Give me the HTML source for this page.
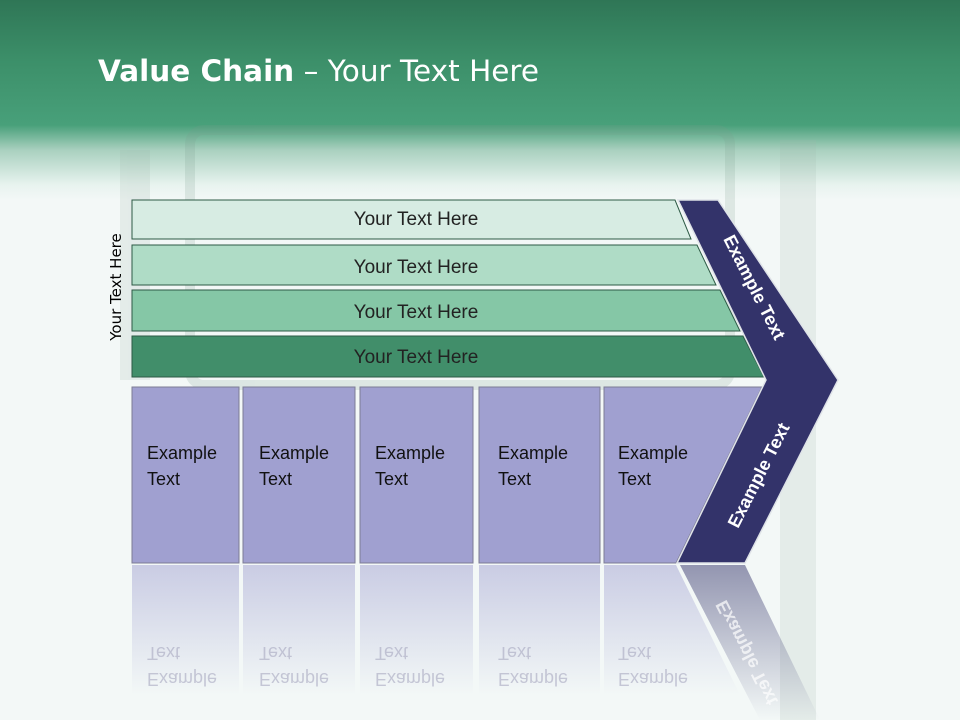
<!DOCTYPE html>
<html><head><meta charset="utf-8"><style>
body{margin:0;width:960px;height:720px;overflow:hidden;background:#f3f8f7;font-family:"Liberation Sans",sans-serif;position:relative}
.abs{position:absolute}
</style></head><body>
<div class="abs" style="left:0;top:0;width:960px;height:200px;background:linear-gradient(#2f7656 0px,#3c8f69 60px,#48a07a 125px,#a9d0bf 150px,#e8f3ef 185px,#f3f8f7 200px)"></div>
<svg class="abs" style="left:0;top:0" width="960" height="720">
 <g opacity="0.18" fill="none" stroke="#7a9a8c">
  <rect x="190" y="130" width="540" height="255" rx="14" stroke-width="10"/>
  <rect x="780" y="140" width="36" height="580" fill="#9fb5ab" stroke="none"/>
  <rect x="120" y="150" width="30" height="230" fill="#9fb5ab" stroke="none"/>
 </g>
 <polygon points="132,200 675,200 691,239 132,239" fill="#d7ece3" stroke="#2d5a45" stroke-width="1"/>
 <polygon points="132,245 697,245 716,285 132,285" fill="#afdcc6" stroke="#2d5a45" stroke-width="1"/>
 <polygon points="132,290 720,290 740,331 132,331" fill="#85c7a6" stroke="#2d5a45" stroke-width="1"/>
 <polygon points="132,336 743,336 764,377 132,377" fill="#418e6a" stroke="#2d5a45" stroke-width="1"/>
 <g font-size="19" fill="#222" text-anchor="middle">
  <text x="416" y="225">Your Text Here</text>
  <text x="416" y="273">Your Text Here</text>
  <text x="416" y="318">Your Text Here</text>
  <text x="416" y="363">Your Text Here</text>
 </g>
 <text transform="translate(121,287) rotate(-90)" text-anchor="middle" font-size="15" font-family="DejaVu Sans" fill="#000">Your Text Here</text>
 <g fill="#a0a0d0" stroke="#7d7d95" stroke-width="1">
  <rect x="132" y="387" width="107" height="176"/>
  <rect x="243" y="387" width="112" height="176"/>
  <rect x="360" y="387" width="113" height="176"/>
  <rect x="479" y="387" width="121" height="176"/>
  <polygon points="604,387 762,387 676,563 604,563"/>
 </g>
 <defs><linearGradient id="rf" x1="0" y1="0" x2="0" y2="1"><stop offset="0" stop-color="#a0a0d0" stop-opacity="0.5"/><stop offset="1" stop-color="#a0a0d0" stop-opacity="0"/></linearGradient>
 <linearGradient id="rc" x1="0" y1="0" x2="0" y2="1"><stop offset="0" stop-color="#33336a" stop-opacity="0.5"/><stop offset="1" stop-color="#33336a" stop-opacity="0"/></linearGradient></defs>
 <g fill="url(#rf)">
  <rect x="132" y="565" width="107" height="130"/>
  <rect x="243" y="565" width="112" height="130"/>
  <rect x="360" y="565" width="113" height="130"/>
  <rect x="479" y="565" width="121" height="130"/>
  <polygon points="604,565 676,565 740,695 604,695"/>
 </g>
 <polygon points="680,565 745,565 820,720 760,720" fill="url(#rc)"/>
 <g font-size="18" fill="#a8a8c0" opacity="0.6">
  <g transform="translate(0,1132) scale(1,-1)">
   <text x="147" y="459">Example</text><text x="147" y="485">Text</text>
   <text x="259" y="459">Example</text><text x="259" y="485">Text</text>
   <text x="375" y="459">Example</text><text x="375" y="485">Text</text>
   <text x="498" y="459">Example</text><text x="498" y="485">Text</text>
   <text x="618" y="459">Example</text><text x="618" y="485">Text</text>
  </g>
 </g>
 <text transform="translate(752,650) rotate(63) scale(1,-1)" font-size="18" font-weight="bold" fill="#fff" opacity="0.7" text-anchor="middle">Example Text</text>
 <g font-size="18" fill="#111">
  <text x="147" y="459">Example</text><text x="147" y="485">Text</text>
  <text x="259" y="459">Example</text><text x="259" y="485">Text</text>
  <text x="375" y="459">Example</text><text x="375" y="485">Text</text>
  <text x="498" y="459">Example</text><text x="498" y="485">Text</text>
  <text x="618" y="459">Example</text><text x="618" y="485">Text</text>
 </g>
 <polygon points="678,200 718,200 838,380 745,563 677,563 766,380" fill="#33336a" stroke="#dfe3e8" stroke-width="1.5"/>
 <text transform="translate(749,290) rotate(63)" text-anchor="middle" font-size="18" font-weight="bold" fill="#fff">Example Text</text>
 <text transform="translate(764,478) rotate(-63)" text-anchor="middle" font-size="18" font-weight="bold" fill="#fff">Example Text</text>
</svg>
<div class="abs" style="left:98px;top:54px;font-size:29.5px;font-family:'DejaVu Sans',sans-serif;color:#fff;white-space:nowrap"><b>Value Chain</b> – Your Text Here</div>
</body></html>
